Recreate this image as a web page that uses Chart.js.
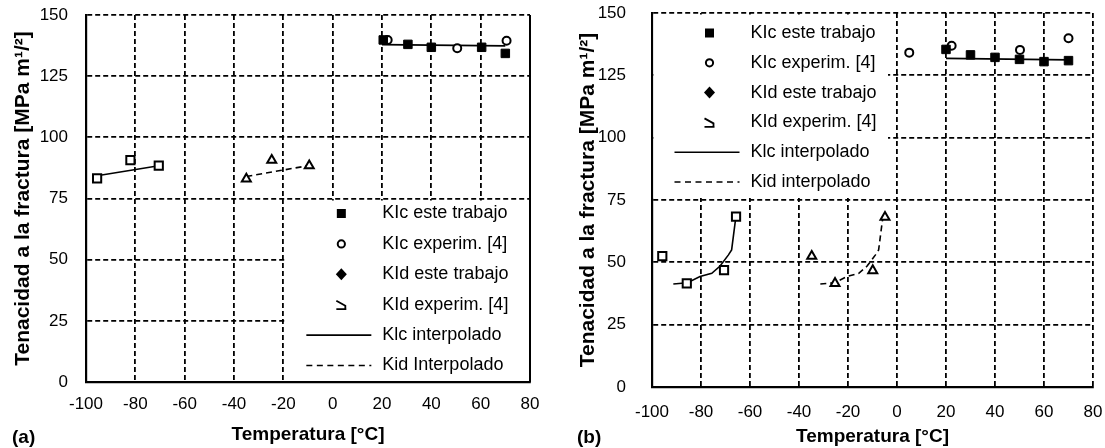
<!DOCTYPE html>
<html>
<head>
<meta charset="utf-8">
<script src="https://cdn.jsdelivr.net/npm/chart.js@4.4.0/dist/chart.umd.min.js"></script>
<style>
body{margin:0;background:#fff;width:1105px;height:448px;overflow:hidden;position:relative;font-family:'Liberation Sans',Arial,sans-serif}
canvas{position:absolute;top:0}
#ca{left:0}
#cb{left:552px}
.tag{position:absolute;font-weight:bold;font-size:19px;top:426px;color:#000}
</style>
</head>
<body>
<canvas id="ca" width="552" height="448"></canvas>
<canvas id="cb" width="553" height="448"></canvas>
<div class="tag" style="left:12px">(a)</div>
<div class="tag" style="left:577px">(b)</div>
<script>
// axis ticks
var xTicks=[-100,-80,-60,-40,-20,0,20,40,60,80];
var yTicks=[0,25,50,75,100,125,150];

// ---- chart (a) ----
var aKicX=[20.5,30.5,40,60.4,70];              // KIc este trabajo
var aKicY=[139.8,138,136.8,136.8,134.3];
var aExpX=[22.3,50.5,70.5];                    // KIc experim. [4]
var aExpY=[139.8,136.4,139.5];
var aSqX=[-95.5,-82,-70.5];                    // open squares, low T
var aSqY=[83.2,90.7,88.4];
var aTriX=[-35,-24.7,-9.5];                    // open triangles, low T
var aTriY=[83,90.7,88.4];
var aLineLoX=[-95.5,-70.5];                    // Klc interpolado
var aLineLoY=[84.3,88.4];
var aLineHiX=[20,70];
var aLineHiY=[137.9,137.4];
var aDashX=[-35,-10];                          // Kid Interpolado
var aDashY=[84,88.4];

// ---- chart (b) ----
var bKicX=[20,30,40,50,60,70];
var bKicY=[135.4,133.2,132.2,131.4,130.5,130.9];
var bExpX=[5,22.3,50.2,70];
var bExpY=[134.1,136.9,135.2,139.9];
var bSqX=[-95.8,-85.8,-70.6,-65.7];
var bSqY=[52.5,41.6,46.9,68.3];
var bTriX=[-34.8,-25.3,-9.9,-4.9];
var bTriY=[52.5,41.6,46.7,68.1];
var bLineLoX=[-91.3,-85.5,-80.4,-75.6,-72.2,-68.8,-67.5,-66.1,-65.7];
var bLineLoY=[41.3,41.8,44.3,45.6,48.5,53,55,65.7,68.3];
var bLineHiX=[20,70];
var bLineHiY=[131.8,131.2];
var bDashX=[-31.3,-25.5,-20.4,-15.6,-12.2,-8.8,-7.5,-6.1,-5.7];
var bDashY=[41.3,41.8,44.3,45.6,48.5,53,55,65.7,68.3];

var legA=['KIc este trabajo','KIc experim. [4]','KId este trabajo','KId experim. [4]','Klc interpolado','Kid Interpolado'];
var legB=['KIc este trabajo','KIc experim. [4]','KId este trabajo','KId experim. [4]','Klc interpolado','Kid interpolado'];
var legMarks=['sqFill','circ','diam','angle','solid','dash'];

Chart.defaults.font.family="'Liberation Sans', Arial, sans-serif";
Chart.defaults.color='#000';

function pts(xs,ys){
  var out=[];
  for(var i=0;i<xs.length;i++) out.push({x:xs[i],y:ys[i]});
  return out;
}

function lineSet(xs,ys,dash){
  return {data:pts(xs,ys),showLine:true,pointRadius:0,borderColor:'#000',borderWidth:1.6,
    borderDash:dash?[6,4]:[],fill:false,order:10};
}
function markSet(xs,ys,style,filled,r){
  return {data:pts(xs,ys),showLine:false,pointStyle:style,pointRadius:r,pointHoverRadius:r,
    backgroundColor:filled?'#000':'#fff',borderColor:'#000',borderWidth:filled?1:2,order:1};
}

function drawMark(ctx,kind,x,y){
  ctx.save();
  ctx.strokeStyle='#000';ctx.fillStyle='#000';ctx.lineWidth=2;
  if(kind=='sqFill'){ctx.fillRect(x-4.5,y-4.5,9,9);}
  else if(kind=='circ'){ctx.beginPath();ctx.arc(x,y,3.6,0,Math.PI*2);ctx.stroke();}
  else if(kind=='diam'){ctx.beginPath();ctx.moveTo(x,y-6);ctx.lineTo(x+5.5,y);ctx.lineTo(x,y+6);ctx.lineTo(x-5.5,y);ctx.closePath();ctx.fill();}
  else if(kind=='angle'){ctx.lineWidth=1.8;ctx.beginPath();ctx.moveTo(x-5,y-4);ctx.lineTo(x+4,y+1);ctx.lineTo(x+4,y+4.5);ctx.moveTo(x-5,y+4.5);ctx.lineTo(x+5,y+4.5);ctx.stroke();}
  else {
    ctx.lineWidth=1.6;
    if(kind=='dash') ctx.setLineDash([6,4.5]);
    ctx.beginPath();ctx.moveTo(x-35,y);ctx.lineTo(x+30,y);ctx.stroke();
  }
  ctx.restore();
}

function legendPlugin(texts,boxFn,firstRow,rowGap,rightBorder){
  return {
    id:'boxLegend',
    afterDatasetsDraw:function(chart){
      var ctx=chart.ctx, b=boxFn(chart);
      ctx.save();
      ctx.fillStyle='#fff';
      ctx.fillRect(b.l,b.t,b.r-b.l,b.b-b.t);
      ctx.font="18px 'Liberation Sans', Arial, sans-serif";
      ctx.textBaseline='middle';ctx.fillStyle='#000';
      for(var i=0;i<texts.length;i++){
        var y=b.t+firstRow+i*rowGap;
        drawMark(ctx,legMarks[i],b.l+56,y);
        ctx.fillStyle='#000';
        ctx.fillText(texts[i],b.l+97,y);
      }
      if(rightBorder){
        var a=chart.chartArea;
        ctx.lineWidth=2;ctx.strokeStyle='#000';
        ctx.beginPath();ctx.moveTo(a.right,a.top);ctx.lineTo(a.right,a.bottom);ctx.stroke();
      }
      ctx.restore();
    }
  };
}

function makeOptions(yW,yTitlePad,yTickPad,xH,xTitlePad,xTickPad,pad){
  return {
    responsive:false,animation:false,
    layout:{padding:pad},
    plugins:{legend:{display:false},tooltip:{enabled:false}},
    scales:{
      x:{type:'linear',min:-100,max:80,
        afterBuildTicks:function(s){s.ticks=xTicks.map(function(v){return {value:v};});},
        afterFit:function(s){s.height=xH;s.paddingLeft=0;s.paddingRight=0;},
        ticks:{padding:xTickPad,font:{size:17},color:'#000'},
        grid:{color:'#000',lineWidth:1.8,drawTicks:false},
        border:{display:true,color:'#000',width:2.2,dash:[5,3]},
        title:{display:true,text:'Temperatura [°C]',font:{size:19,weight:'bold'},color:'#000',padding:{top:0,bottom:xTitlePad}}
      },
      y:{type:'linear',min:0,max:150,
        afterBuildTicks:function(s){s.ticks=yTicks.map(function(v){return {value:v};});},
        afterFit:function(s){s.width=yW;s.paddingTop=0;s.paddingBottom=0;},
        ticks:{padding:yTickPad,font:{size:17},color:'#000'},
        grid:{color:'#000',lineWidth:1.8,drawTicks:false},
        border:{display:true,color:'#000',width:2.2,dash:[5,3]},
        title:{display:true,text:'Tenacidad a la fractura [MPa m¹/²]',font:{size:21,weight:'bold'},color:'#000',padding:{top:yTitlePad,bottom:0}}
      }
    }
  };
}

new Chart(document.getElementById('ca'),{
  type:'scatter',
  data:{datasets:[
    markSet(aKicX,aKicY,'rect',true,6),
    markSet(aExpX,aExpY,'circle',false,4),
    markSet(aSqX,aSqY,'rect',false,5.8),
    markSet(aTriX,aTriY,'triangle',false,5.2),
    lineSet(aLineLoX,aLineLoY,false),
    lineSet(aLineHiX,aLineHiY,false),
    lineSet(aDashX,aDashY,true)
  ]},
  options:makeOptions(86,11,18,66,2,12,{top:15,right:22,left:0,bottom:0}),
  plugins:[legendPlugin(legA,function(c){
    var a=c.chartArea;
    return {l:c.scales.x.getPixelForValue(-20)+2,t:c.scales.y.getPixelForValue(75)+2,r:a.right-1,b:a.bottom-1.5};
  },13,30.4,true)]
});

new Chart(document.getElementById('cb'),{
  type:'scatter',
  data:{datasets:[
    markSet(bKicX,bKicY,'rect',true,6),
    markSet(bExpX,bExpY,'circle',false,4),
    markSet(bSqX,bSqY,'rect',false,5.8),
    markSet(bTriX,bTriY,'triangle',false,5.2),
    lineSet(bLineLoX,bLineLoY,false),
    lineSet(bLineHiX,bLineHiY,false),
    lineSet(bDashX,bDashY,true)
  ]},
  options:makeOptions(100,24,26,61,0,15,{top:13,right:12,left:0,bottom:0}),
  plugins:[legendPlugin(legB,function(c){
    var a=c.chartArea;
    return {l:a.left+1.5,t:a.top+1.5,r:c.scales.x.getPixelForValue(0)-9,b:c.scales.y.getPixelForValue(75)-2};
  },18.5,29.8,false)]
});
</script>
</body>
</html>
